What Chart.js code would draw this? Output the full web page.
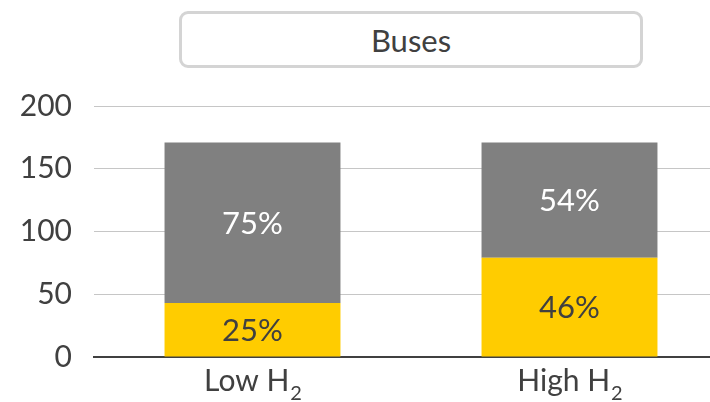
<!DOCTYPE html>
<html>
<head>
<meta charset="utf-8">
<script src="https://cdn.jsdelivr.net/npm/chart.js@4/dist/chart.umd.min.js"></script>
<style>
  html, body { margin: 0; padding: 0; overflow: hidden; background: #fff; }
  #wrap { position: relative; width: 710px; height: 402px; overflow: hidden; }
  #chart { position: absolute; left: 0; top: 0; }
  .title-box {
    position: absolute; left: 179px; top: 11px; width: 458px; height: 51px;
    border: 3px solid #d4d4d4; border-radius: 9px; background: #fff;
    font: 31px Lato, sans-serif; color: #404040;
    display: flex; align-items: center; justify-content: center;
  }
</style>
</head>
<body>
<div id="wrap">
  <canvas id="chart" width="728" height="402"></canvas>
  <div class="title-box">Buses</div>
</div>
<script>
// Scenario categories (the "2" is drawn as a subscript)
const scenarios = ["Low H", "High H"]
const subscripts = ["2", "2"]
// Bus fleet split per scenario
const h2Buses = [43, 79]
const otherBuses = [128, 92]
const yTicks = [0, 50, 100, 150, 200]

const textColor = "#404040"
const fontFamily = "Lato, sans-serif"

// Percentage labels inside each stacked segment
const segmentLabels = {
  id: "segmentLabels",
  afterDatasetsDraw(chart) {
    const ctx = chart.ctx
    ctx.save()
    ctx.font = "31px " + fontFamily
    ctx.textAlign = "center"
    ctx.textBaseline = "middle"
    chart.data.datasets.forEach((ds, di) => {
      const meta = chart.getDatasetMeta(di)
      meta.data.forEach((bar, i) => {
        const total = h2Buses[i] + otherBuses[i]
        const pct = Math.round((ds.data[i] / total) * 100)
        ctx.fillStyle = ds.labelColor
        ctx.fillText(pct + "%", bar.x, (bar.y + bar.base) / 2 + 1)
      })
    })
    ctx.restore()
  },
}

// Category labels with subscript
const categoryLabels = {
  id: "categoryLabels",
  afterDraw(chart) {
    const ctx = chart.ctx
    const xScale = chart.scales.x
    const y = chart.chartArea.bottom + 34
    ctx.save()
    ctx.fillStyle = textColor
    ctx.textBaseline = "alphabetic"
    ctx.textAlign = "left"
    scenarios.forEach((name, i) => {
      ctx.font = "30px " + fontFamily
      const w1 = ctx.measureText(name).width
      ctx.font = "20px " + fontFamily
      const w2 = ctx.measureText(subscripts[i]).width
      const cx = xScale.getPixelForValue(i)
      const start = cx - (w1 + w2) / 2
      ctx.font = "30px " + fontFamily
      ctx.fillText(name, start, y)
      ctx.font = "20px " + fontFamily
      ctx.fillText(subscripts[i], start + w1 + 1, y + 9)
    })
    ctx.restore()
  },
}

new Chart(document.getElementById("chart"), {
  type: "bar",
  data: {
    labels: scenarios.map((s, i) => s + subscripts[i]),
    datasets: [
      {
        label: "Hydrogen",
        data: h2Buses,
        backgroundColor: "#ffcc00",
        labelColor: textColor,
      },
      {
        label: "Other",
        data: otherBuses,
        backgroundColor: "#808080",
        labelColor: "#ffffff",
      },
    ],
  },
  options: {
    responsive: false,
    animation: false,
    layout: { padding: { top: 106, left: 0, right: 0, bottom: 0 } },
    plugins: {
      legend: { display: false },
      tooltip: { enabled: false },
    },
    datasets: {
      bar: { barPercentage: 1, categoryPercentage: 0.555 },
    },
    scales: {
      x: {
        stacked: true,
        grid: { display: false, drawTicks: false },
        border: { color: textColor, width: 2 },
        ticks: { display: false },
        afterFit: (scale) => { scale.height = 45 },
      },
      y: {
        stacked: true,
        min: 0,
        max: 200,
        afterBuildTicks: (scale) => { scale.ticks = yTicks.map((v) => ({ value: v })) },
        grid: { color: "#c6c6c6", lineWidth: 1, drawTicks: false },
        border: { display: false },
        ticks: {
          padding: 22,
          color: textColor,
          font: { family: fontFamily, size: 30 },
        },
        afterFit: (scale) => { scale.width = 94 },
      },
    },
  },
  plugins: [segmentLabels, categoryLabels],
})
</script>
</body>
</html>
